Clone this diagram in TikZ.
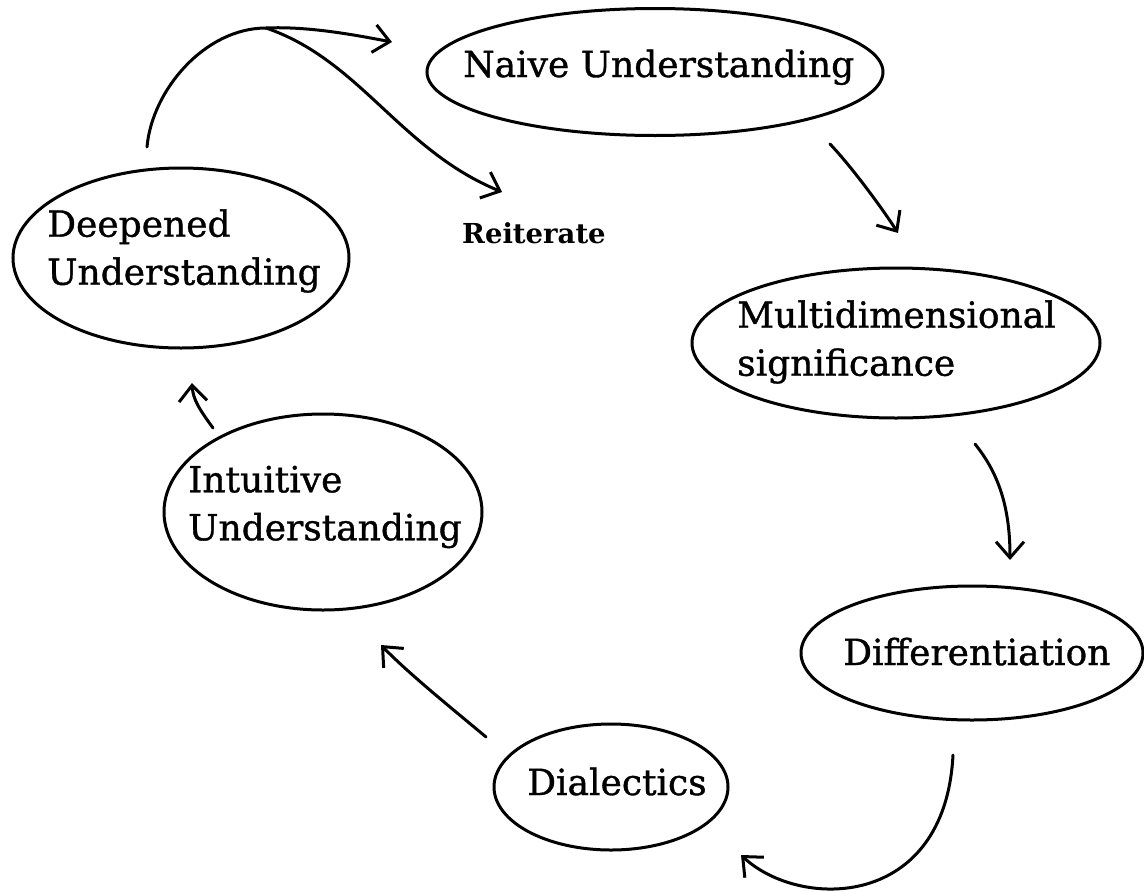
\documentclass[tikz,border=0pt]{standalone}
\usepackage{fontspec}
\setmainfont{DejaVu Serif}
\newfontfamily\labelfont{DejaVu Serif}[FakeBold=1]
\usetikzlibrary{shapes.geometric,arrows.meta}
\begin{document}
\begin{tikzpicture}[x=1pt,y=-1pt,
  stage/.style={draw, ellipse, line width=3pt, inner sep=0pt},
  caption/.style={inner sep=0pt, align=left, font=\labelfont\fontsize{36}{48}\selectfont},
  flow/.style={line width=3pt, line cap=round,
    -{Straight Barb[length=16pt,width=28pt,line width=3pt]}}]
\useasboundingbox (0,0) rectangle (1144,892);

% the six stages of the cycle (outlines)
\node[stage, minimum width=456pt, minimum height=127pt] (naive) at (655,72) {};
\node[stage, minimum width=408pt, minimum height=150pt] (multi) at (896,343) {};
\node[stage, minimum width=342pt, minimum height=134pt] (diff) at (972,653) {};
\node[stage, minimum width=234pt, minimum height=126pt] (dial) at (611,787) {};
\node[stage, minimum width=318pt, minimum height=196pt] (intu) at (323,512) {};
\node[stage, minimum width=336pt, minimum height=180pt] (deep) at (181,258) {};

% their labels
\node[caption, anchor=base west] (naiveT) at (463,77) {Naive Understanding};
\node[caption, anchor=west] (multiT) at (737,342) {Multidimensional\\significance};
\node[caption, anchor=base west] (diffT) at (843,665) {Differentiation};
\node[caption, anchor=base west] (dialT) at (527,795) {Dialectics};
\node[caption, anchor=west] (intuT) at (188,507) {Intuitive\\Understanding};
\node[caption, anchor=west] (deepT) at (47,251) {Deepened\\Understanding};
\node[inner sep=0pt, font=\bfseries\fontsize{27.5}{33}\selectfont, anchor=base west] (reit) at (462,243) {Reiterate};

% free ends of the hand-drawn connectors
\coordinate (deepOut) at (147,147);
\coordinate (peak) at (266,28);
\coordinate (naiveIn) at (392,42);
\coordinate (reitIn) at (502,192);
\coordinate (naiveOut) at (830,144);
\coordinate (multiIn) at (898,233);
\coordinate (multiOut) at (975,444);
\coordinate (diffIn) at (1010,560);
\coordinate (diffOut) at (953,755);
\coordinate (dialIn) at (741,855);
\coordinate (dialOut) at (486,737);
\coordinate (intuIn) at (381,645);
\coordinate (intuOut) at (213,428);
\coordinate (deepIn) at (192,383);

% connectors
\draw[flow] (deepOut) .. controls (152,90) and (205,28) .. (peak)
  .. controls (310,26) and (360,36) .. (naiveIn);
\draw[flow] (peak) .. controls (360,60) and (400,150) .. (reitIn);
\draw[flow] (naiveOut) .. controls (850,165) and (880,205) .. (multiIn);
\draw[flow] (multiOut) .. controls (1000,475) and (1010,510) .. (diffIn);
\draw[flow] (diffOut) .. controls (945,910) and (800,910) .. (dialIn);
\draw[flow] (dialOut) .. controls (460,715) and (410,675) .. (intuIn);
\draw[flow] (intuOut) .. controls (200,410) and (193,400) .. (deepIn);
\end{tikzpicture}
\end{document}
